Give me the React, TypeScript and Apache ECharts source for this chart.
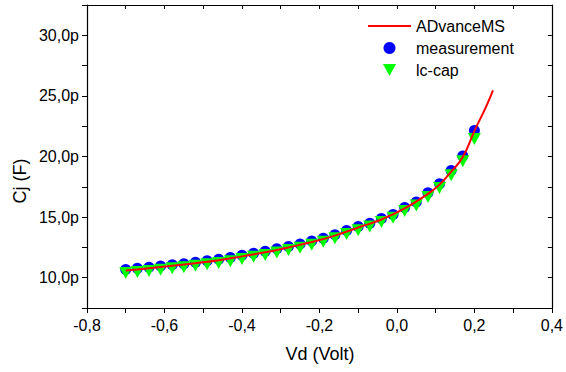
import React, { useEffect, useRef } from "react";
import * as echarts from "echarts";

const voltages = [
  -0.7, -0.67, -0.64, -0.61, -0.58, -0.55, -0.52, -0.49, -0.46, -0.43, -0.4,
  -0.37, -0.34, -0.31, -0.28, -0.25, -0.22, -0.19, -0.16, -0.13, -0.1, -0.07,
  -0.04, -0.01, 0.02, 0.05, 0.08, 0.11, 0.14, 0.17, 0.2,
];
const measurement = [
  10.68, 10.77, 10.86, 10.96, 11.07, 11.16, 11.28, 11.4, 11.52, 11.66, 11.85,
  12.02, 12.18, 12.38, 12.58, 12.78, 13.02, 13.26, 13.55, 13.9, 14.22, 14.5,
  14.88, 15.22, 15.8, 16.25, 17.0, 17.75, 18.85, 20.05, 22.15,
];
const lcCap = [
  10.38, 10.47, 10.56, 10.66, 10.77, 10.86, 10.98, 11.1, 11.22, 11.36, 11.55,
  11.72, 11.88, 12.08, 12.28, 12.48, 12.72, 12.96, 13.25, 13.6, 13.92, 14.22,
  14.6, 14.95, 15.5, 15.95, 16.65, 17.4, 18.45, 19.6, 21.45,
];
const modelV = [
  -0.7, -0.64, -0.58, -0.52, -0.46, -0.4, -0.34, -0.28, -0.22, -0.16, -0.1,
  -0.04, 0.02, 0.08, 0.11, 0.14, 0.17, 0.2, 0.23, 0.248,
];
const modelC = [
  10.6, 10.78, 10.99, 11.2, 11.44, 11.76, 12.1, 12.5, 12.94, 13.47, 14.14,
  14.8, 15.72, 16.92, 17.68, 18.75, 19.95, 22.1, 24.1, 25.45,
];
const seriesNames = ["ADvanceMS", "measurement", "lc-cap"];

const FONT = "'Liberation Sans', Arial, sans-serif";

export default function App() {
  const ref = useRef<HTMLDivElement>(null);
  useEffect(() => {
    document.body.style.margin = "0";
    if (!ref.current) return;
    const chart = echarts.init(ref.current, null, { renderer: "svg" });
    const xFmt = (v: number) => {
      const k = Math.round(v * 10);
      if (k % 2 !== 0) return "";
      return (k / 10).toFixed(1).replace(".", ",");
    };
    const yFmt = (v: number) => {
      const k = Math.round(v * 10);
      if (k % 50 !== 0) return "";
      return (k / 10).toFixed(1).replace(".", ",") + "p";
    };
    const axisLine = { show: true, onZero: false, lineStyle: { color: "#000", width: 1.2 } };
    const tickStyle = { color: "#000", width: 1 };
    chart.setOption({
      animation: false,
      backgroundColor: "#fff",
      grid: { left: 87, right: 13, top: 5, bottom: 64, containLabel: false },
      xAxis: [
        {
          type: "value",
          min: -0.8,
          max: 0.4,
          interval: 0.1,
          position: "bottom",
          axisLine,
          axisTick: { show: true, length: 5, lineStyle: tickStyle },
          axisLabel: {
            interval: 0,
            formatter: xFmt,
            color: "#000",
            fontSize: 16,
            fontFamily: FONT,
            margin: 9,
          },
          splitLine: { show: false },
        },
        {
          type: "value",
          min: -0.8,
          max: 0.4,
          interval: 0.1,
          position: "top",
          axisLine,
          axisTick: { show: true, inside: true, length: 4, lineStyle: tickStyle },
          axisLabel: { show: false },
          splitLine: { show: false },
        },
      ],
      yAxis: [
        {
          type: "value",
          min: 7.5,
          max: 32.5,
          interval: 2.5,
          position: "left",
          axisLine,
          axisTick: { show: true, length: 5, lineStyle: tickStyle },
          axisLabel: {
            interval: 0,
            formatter: yFmt,
            color: "#000",
            fontSize: 16,
            fontFamily: FONT,
            margin: 8,
          },
          splitLine: { show: false },
        },
        {
          type: "value",
          min: 7.5,
          max: 32.5,
          interval: 2.5,
          position: "right",
          axisLine,
          axisTick: { show: true, inside: true, length: 4, lineStyle: tickStyle },
          axisLabel: { show: false },
          splitLine: { show: false },
        },
      ],
      legend: {
        orient: "vertical",
        left: 363,
        top: 13,
        itemWidth: 43,
        itemHeight: 12,
        itemGap: 6,
        symbolKeepAspect: true,
        textStyle: { color: "#000", fontSize: 16, fontFamily: FONT },
        data: [
          {
            name: seriesNames[0],
            icon: "path://M0,0h43v2h-43z",
            itemStyle: { color: "#ff0000" },
          },
          {
            name: seriesNames[1],
            icon: "circle",
            itemStyle: { color: "#0000ff" },
          },
          {
            name: seriesNames[2],
            icon: "path://M0,0L12,0L6,11Z",
            itemStyle: { color: "#00ff00" },
          },
        ],
      },
      graphic: [
        {
          type: "text",
          x: 20,
          y: 181,
          rotation: Math.PI / 2,
          style: {
            text: "Cj (F)",
            fill: "#000",
            fontSize: 18,
            fontFamily: FONT,
            textAlign: "center",
            textVerticalAlign: "middle",
          },
        },
        {
          type: "text",
          x: 320,
          y: 354,
          style: {
            text: "Vd (Volt)",
            fill: "#000",
            fontSize: 18,
            fontFamily: FONT,
            textAlign: "center",
            textVerticalAlign: "middle",
          },
        },
      ],
      series: [
        {
          name: seriesNames[0],
          type: "line",
          data: modelV.map((v, i) => [v, modelC[i]]),
          showSymbol: false,
          symbol: "none",
          smooth: true,
          lineStyle: { color: "#ff0000", width: 2 },
          itemStyle: { color: "#ff0000" },
        },
        {
          name: seriesNames[1],
          type: "scatter",
          data: voltages.map((v, i) => [v, measurement[i]]),
          symbol: "circle",
          symbolSize: 11,
          itemStyle: { color: "#0000ff", opacity: 1 },
        },
        {
          name: seriesNames[2],
          type: "scatter",
          data: voltages.map((v, i) => [v, lcCap[i]]),
          symbol: "triangle",
          symbolRotate: 180,
          symbolSize: [13, 12],
          itemStyle: { color: "#00ff00", opacity: 1 },
        },
      ],
    });
    return () => chart.dispose();
  }, []);
  return <div ref={ref} style={{ width: 566, height: 372 }} />;
}
